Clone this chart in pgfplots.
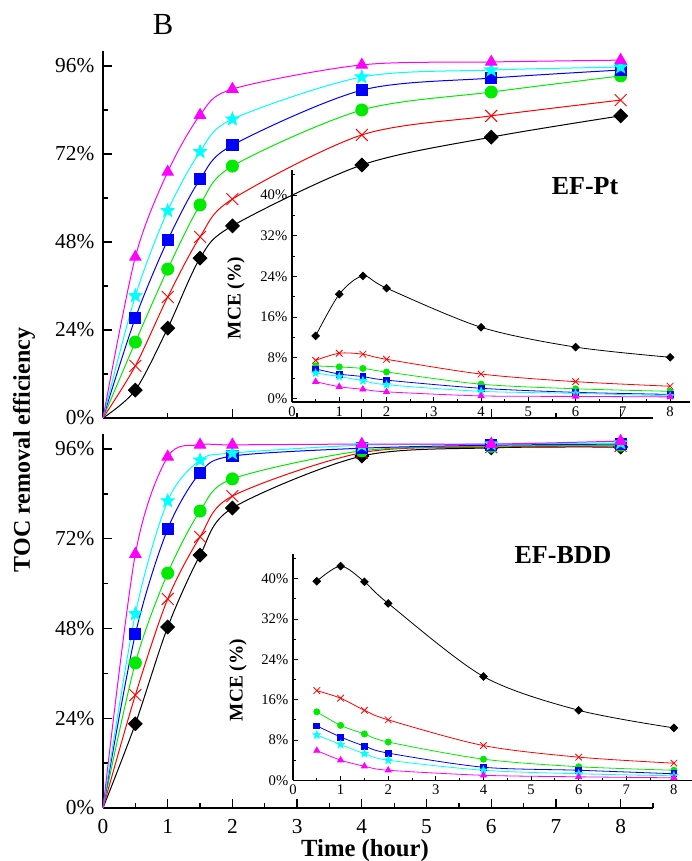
\documentclass[border=0pt]{standalone}
\usepackage{fontspec}
\setmainfont{Liberation Serif}
\usepackage{pgfplots}
\pgfplotsset{compat=1.18}
\definecolor{cBlack}{RGB}{0,0,0}
\definecolor{cRed}{RGB}{255,0,0}
\definecolor{cGreen}{RGB}{0,235,0}
\definecolor{cBlue}{RGB}{0,0,255}
\definecolor{cCyan}{RGB}{0,255,255}
\definecolor{cMag}{RGB}{255,0,255}
\pgfdeclareplotmark{fstar}{%
 \pgfpathmoveto{\pgfpointpolar{90}{\pgfplotmarksize}}%
 \pgfpathlineto{\pgfpointpolar{126}{0.42\pgfplotmarksize}}%
 \pgfpathlineto{\pgfpointpolar{162}{\pgfplotmarksize}}%
 \pgfpathlineto{\pgfpointpolar{198}{0.42\pgfplotmarksize}}%
 \pgfpathlineto{\pgfpointpolar{234}{\pgfplotmarksize}}%
 \pgfpathlineto{\pgfpointpolar{270}{0.42\pgfplotmarksize}}%
 \pgfpathlineto{\pgfpointpolar{306}{\pgfplotmarksize}}%
 \pgfpathlineto{\pgfpointpolar{342}{0.42\pgfplotmarksize}}%
 \pgfpathlineto{\pgfpointpolar{18}{\pgfplotmarksize}}%
 \pgfpathlineto{\pgfpointpolar{54}{0.42\pgfplotmarksize}}%
 \pgfpathclose
 \pgfusepathqfillstroke}
\pgfplotsset{
 mainax/.style={scale only axis, width=412.5pt, xmin=0, xmax=8.5, ymin=0, ymax=100,
   axis x line*=bottom, axis y line*=left, axis line style={line width=1.2pt,-},
   tick align=inside, major tick length=6.75pt, minor tick length=3.4pt,
   every tick/.style={black, line width=1pt},
   ytick={0,24,48,72,96}, minor ytick={12,36,60,84},
   yticklabel={\pgfmathprintnumber{\tick}\%},
   tick label style={font=\fontsize{16}{19}\selectfont},
   /pgf/number format/assume math mode=true, clip=false,
   yticklabel shift=3pt, xticklabel shift=5pt},
 insetax/.style={scale only axis, xmin=0, ymax=45,
   axis x line*=bottom, axis y line*=left, axis line style={line width=0.8pt,-},
   tick align=inside, major tick length=3.5pt, minor tick length=2pt,
   every tick/.style={black, line width=0.6pt},
   xtick={0,1,...,8}, minor xtick={0.5,1.5,...,7.5},
   ytick={0,8,16,24,32,40}, minor ytick={4,12,20,28,36,44},
   yticklabel={\pgfmathprintnumber{\tick}\%},
   tick label style={font=\fontsize{11}{13}\selectfont},
   /pgf/number format/assume math mode=true, clip=false},
 sK/.style={cBlack, line width=0.75pt, mark=square*, mark options={rotate=45, solid, fill=cBlack}, mark size=3.6pt},
 sR/.style={cRed, line width=0.75pt, mark=x, mark options={solid, line width=0.7pt}, mark size=6.3pt},
 sG/.style={cGreen, line width=0.75pt, mark=*, mark options={solid, fill=cGreen}, mark size=4.5pt},
 sB/.style={cBlue, line width=0.75pt, mark=square*, mark options={solid, fill=cBlue}, mark size=4.2pt},
 sC/.style={cCyan, line width=0.75pt, mark=fstar, mark options={solid, fill=cCyan}, mark size=5pt},
 sM/.style={cMag, line width=0.75pt, mark=triangle*, mark options={solid, fill=cMag}, mark size=4.8pt},
 iK/.style={cBlack, line width=0.6pt, mark=square*, mark options={rotate=45, solid, fill=cBlack}, mark size=2pt},
 iR/.style={cRed, line width=0.6pt, mark=x, mark options={solid, line width=0.6pt}, mark size=3.5pt},
 iG/.style={cGreen, line width=0.6pt, mark=*, mark options={solid, fill=cGreen}, mark size=2.3pt},
 iB/.style={cBlue, line width=0.6pt, mark=square*, mark options={solid, fill=cBlue}, mark size=2.2pt},
 iC/.style={cCyan, line width=0.6pt, mark=fstar, mark options={solid, fill=cCyan}, mark size=2.9pt},
 iM/.style={cMag, line width=0.6pt, mark=triangle*, mark options={solid, fill=cMag}, mark size=2.6pt},
}
\begin{document}
\begin{tikzpicture}
\useasboundingbox (0,0) rectangle (519pt,645.75pt);
% ---------------- top main panel (EF-Pt) ----------------
\begin{axis}[mainax, at={(77.25pt,332.25pt)}, anchor=south west, height=275pt,
  xtick={0,2,4,6,8}, minor xtick={1,3,5,7}, xticklabels={}]
\addplot[sK, smooth, mark indices={2,...,8}] coordinates {(0,0)(0.5,7.6)(1,24.5)(1.5,43.6)(2,52.4)(4,69.0)(6,76.6)(8,82.4)};
\addplot[sR, smooth, mark indices={2,...,8}] coordinates {(0,0)(0.5,14.2)(1,33.0)(1.5,49.4)(2,59.7)(4,77.2)(6,82.4)(8,86.7)};
\addplot[sG, smooth, mark indices={2,...,8}] coordinates {(0,0)(0.5,20.7)(1,40.6)(1.5,58.1)(2,68.7)(4,84.0)(6,88.9)(8,93.3)};
\addplot[sB, smooth, mark indices={2,...,8}] coordinates {(0,0)(0.5,27.3)(1,48.5)(1.5,65.1)(2,74.4)(4,89.4)(6,92.7)(8,94.9)};
\addplot[sC, smooth, mark indices={2,...,8}] coordinates {(0,0)(0.5,33.3)(1,56.5)(1.5,72.6)(2,81.5)(4,93.0)(6,94.9)(8,95.7)};
\addplot[sM, smooth, mark indices={2,...,8}] coordinates {(0,0)(0.5,43.9)(1,67.1)(1.5,82.6)(2,89.7)(4,96.3)(6,97.1)(8,97.6)};
\end{axis}
% ---------------- bottom main panel (EF-BDD) ----------------
\begin{axis}[mainax, at={(77.25pt,39.75pt)}, anchor=south west, height=280.5pt,
  xtick={0,1,...,8}, minor xtick={0.5,1.5,...,8.5}]
\addplot[sK, smooth, mark indices={2,...,8}] coordinates {(0,0)(0.5,22.5)(1,48.4)(1.5,67.6)(2,80.2)(4,94.1)(6,96.3)(8,96.5)};
\addplot[sR, smooth, mark indices={2,...,8}] coordinates {(0,0)(0.5,30.2)(1,55.9)(1.5,72.5)(2,83.4)(4,95.0)(6,96.5)(8,96.8)};
\addplot[sG, smooth, mark indices={2,...,8}] coordinates {(0,0)(0.5,38.8)(1,62.8)(1.5,79.4)(2,88.0)(4,95.5)(6,96.7)(8,97.0)};
\addplot[sB, smooth, mark indices={2,...,8}] coordinates {(0,0)(0.5,46.5)(1,74.6)(1.5,89.6)(2,94.1)(4,96.2)(6,97.0)(8,97.3)};
\addplot[sC, smooth, mark indices={2,...,8}] coordinates {(0,0)(0.5,51.9)(1,82.1)(1.5,93.0)(2,94.9)(4,97.0)(6,97.3)(8,97.6)};
\addplot[sM, smooth, mark indices={2,...,8}] coordinates {(0,0)(0.5,67.9)(1,93.9)(1.5,97.1)(2,97.1)(4,97.3)(6,97.3)(8,98.1)};
\end{axis}
% ---------------- top inset ----------------
\begin{axis}[insetax, at={(219pt,344.25pt)}, anchor=south west, width=298.5pt, height=174.2pt,
  xmax=8.42, ymin=-0.7]
\addplot[iK, smooth] coordinates {(0.5,12.3)(1,20.5)(1.5,24.1)(2,21.7)(4,14.0)(6,10.1)(8,8.1)};
\addplot[iR, smooth] coordinates {(0.5,7.5)(1,8.9)(1.5,8.7)(2,7.7)(4,4.8)(6,3.3)(8,2.4)};
\addplot[iG, smooth] coordinates {(0.5,6.4)(1,6.2)(1.5,5.9)(2,5.2)(4,2.8)(6,1.9)(8,1.4)};
\addplot[iB, smooth] coordinates {(0.5,5.8)(1,4.8)(1.5,4.3)(2,3.6)(4,2.0)(6,1.2)(8,0.8)};
\addplot[iC, smooth] coordinates {(0.5,5.0)(1,4.3)(1.5,3.5)(2,2.7)(4,1.4)(6,1.0)(8,0.5)};
\addplot[iM, smooth] coordinates {(0.5,3.3)(1,2.3)(1.5,1.8)(2,1.3)(4,0.5)(6,0.4)(8,0.3)};
\end{axis}
% ---------------- bottom inset ----------------
\begin{axis}[insetax, at={(219.75pt,60.5pt)}, anchor=south west, width=299.25pt, height=170.1pt,
  xmax=8.38, ymin=0]
\addplot[iK, smooth] coordinates {(0.5,39.5)(1,42.5)(1.5,39.4)(2,35.1)(4,20.6)(6,13.9)(8,10.4)};
\addplot[iR, smooth] coordinates {(0.5,17.8)(1,16.3)(1.5,13.9)(2,12.0)(4,6.9)(6,4.6)(8,3.4)};
\addplot[iG, smooth] coordinates {(0.5,13.6)(1,10.9)(1.5,9.2)(2,7.6)(4,4.2)(6,2.7)(8,2.0)};
\addplot[iB, smooth] coordinates {(0.5,10.8)(1,8.6)(1.5,6.8)(2,5.4)(4,2.6)(6,2.0)(8,1.3)};
\addplot[iC, smooth] coordinates {(0.5,9.0)(1,7.1)(1.5,5.3)(2,4.0)(4,2.0)(6,1.3)(8,0.9)};
\addplot[iM, smooth] coordinates {(0.5,5.9)(1,4.0)(1.5,2.8)(2,2.0)(4,1.0)(6,0.7)(8,0.5)};
\end{axis}
% ---------------- texts ----------------
\node[font=\fontsize{23}{27}\selectfont] at (122.25pt,627pt) {B};
\node[font=\fontsize{18}{21}\selectfont\bfseries, rotate=90] at (18pt,308.25pt) {TOC removal efficiency};
\node[font=\fontsize{18.5}{22}\selectfont\bfseries] at (273.75pt,7.5pt) {Time (hour)};
\node[font=\fontsize{14.5}{17}\selectfont\bfseries, rotate=90] at (177pt,422.25pt) {MCE (\%)};
\node[font=\fontsize{14.5}{17}\selectfont\bfseries, rotate=90] at (178.5pt,135.75pt) {MCE (\%)};
\node[font=\fontsize{19.5}{23}\selectfont\bfseries] at (438.75pt,506.25pt) {EF-Pt};
\node[font=\fontsize{19.5}{23}\selectfont\bfseries] at (422.25pt,229.5pt) {EF-BDD};
\end{tikzpicture}
\end{document}
